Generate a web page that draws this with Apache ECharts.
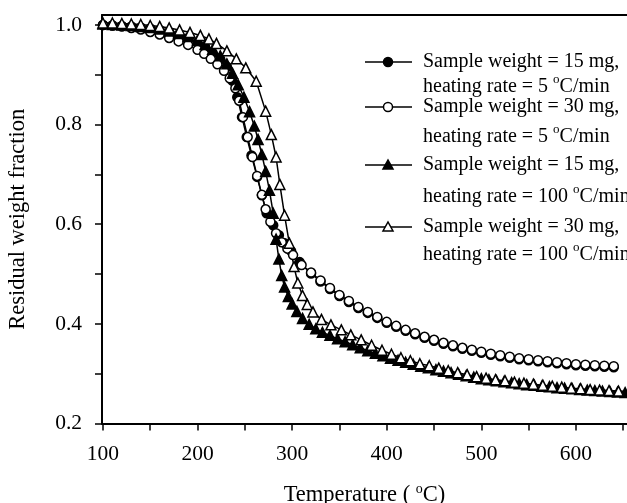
<!DOCTYPE html>
<html>
<head>
<meta charset="utf-8">
<script src="https://cdn.jsdelivr.net/npm/echarts@6/dist/echarts.min.js"></script>
<style>
  html, body { margin: 0; padding: 0; background: #fff; }
  #chart { width: 627px; height: 503px; }
</style>
</head>
<body>
<div id="chart"></div>
<script>
// Sample weight = 15 mg, heating rate = 5 C/min (filled circles)
const tempA = [100,110,120,130,140,150,160,170,180,190,200,208,216,224,231,237,242,247,252,257,263,268,273,280,286,292,299,308,
  320,330,340,350,360,370,380,390,400,410,420,430,440,450,460,470,480,490,500,510,520,530,540,550,560,570,580,590,600,610,620,630,640];
const weightA = [1.000,0.999,0.998,0.997,0.995,0.993,0.990,0.986,0.981,0.974,0.965,0.956,0.944,0.931,0.916,0.888,0.855,0.815,0.775,0.738,0.695,0.658,0.622,0.598,0.578,0.562,0.546,0.524,
  0.501,0.485,0.470,0.456,0.444,0.432,0.422,0.412,0.402,0.394,0.386,0.379,0.372,0.366,0.360,0.355,0.350,0.346,0.342,0.338,0.335,0.332,0.329,0.327,0.325,0.323,0.321,0.319,0.317,0.316,0.315,0.314,0.313];

// Sample weight = 30 mg, heating rate = 5 C/min (open circles)
const tempB = [100,110,120,130,140,150,160,170,180,190,200,207,214,221,228,234,240,244,248,253,258,263,268,272,277,283,289,295,301,
  310,320,330,340,350,360,370,380,390,400,410,420,430,440,450,460,470,480,490,500,510,520,530,540,550,560,570,580,590,600,610,620,630,640];
const weightB = [1.000,0.999,0.997,0.994,0.991,0.986,0.981,0.974,0.967,0.960,0.950,0.942,0.932,0.921,0.908,0.893,0.873,0.848,0.815,0.775,0.735,0.697,0.659,0.630,0.605,0.582,0.564,0.551,0.538,
  0.518,0.503,0.487,0.472,0.458,0.446,0.434,0.424,0.414,0.404,0.396,0.388,0.381,0.374,0.368,0.362,0.357,0.352,0.348,0.344,0.340,0.337,0.334,0.331,0.329,0.327,0.325,0.323,0.321,0.319,0.318,0.317,0.316,0.315];

// Sample weight = 15 mg, heating rate = 100 C/min (filled triangles)
const tempC = [100,110,120,130,140,150,160,170,180,190,200,208,216,224,231,237,243,249,255,260,264,268,272,276,280,283,286,289,292,296,300,305,311,318,
  325,332,340,348,356,364,372,380,388,396,404,412,420,428,436,444,452,460,468,476,484,492,500,508,516,524,532,540,548,556,564,572,580,588,596,604,612,620,628,636,644,652];
const weightC = [1.002,1.001,1.000,0.999,0.997,0.995,0.992,0.988,0.983,0.977,0.969,0.961,0.951,0.938,0.922,0.903,0.880,0.855,0.826,0.797,0.770,0.740,0.706,0.668,0.622,0.570,0.530,0.497,0.474,0.455,0.440,0.425,0.411,0.399,
  0.390,0.383,0.377,0.370,0.364,0.358,0.352,0.346,0.341,0.336,0.331,0.327,0.323,0.319,0.315,0.312,0.308,0.305,0.302,0.299,0.296,0.293,0.290,0.288,0.286,0.284,0.282,0.280,0.278,0.277,0.275,0.274,0.272,0.271,0.270,0.268,0.267,0.266,0.265,0.264,0.263,0.262];

// Sample weight = 30 mg, heating rate = 100 C/min (open triangles)
const tempD = [100,110,120,130,140,150,160,170,181,192,203,212,220,231,241,251,262,272,278,283,287,292,297,302,306,311,316,322,331,341,352,362,373,384,395,
  405,415,425,435,445,455,465,475,485,495,505,515,525,535,545,555,565,575,585,595,605,615,625,635,645,655];
const weightD = [1.004,1.004,1.003,1.002,1.001,0.999,0.997,0.994,0.990,0.985,0.979,0.972,0.963,0.948,0.932,0.914,0.887,0.827,0.780,0.735,0.680,0.618,0.562,0.515,0.482,0.457,0.439,0.424,0.409,0.398,0.388,0.378,0.368,0.357,0.347,
  0.339,0.332,0.326,0.320,0.316,0.311,0.306,0.302,0.298,0.294,0.291,0.288,0.286,0.283,0.281,0.279,0.277,0.275,0.273,0.271,0.270,0.268,0.267,0.266,0.265,0.264];

const seriesNames = [
  'Sample weight = 15 mg, heating rate = 5 °C/min',
  'Sample weight = 30 mg, heating rate = 5 °C/min',
  'Sample weight = 15 mg, heating rate = 100 °C/min',
  'Sample weight = 30 mg, heating rate = 100 °C/min'
];
const legendLine1 = ['Sample weight = 15 mg,', 'Sample weight = 30 mg,', 'Sample weight = 15 mg,', 'Sample weight = 30 mg,'];
const legendLine2 = ['heating rate = 5 {sup|o}C/min', 'heating rate = 5 {sup|o}C/min',
  'heating rate = 100 {sup|o}C/min', 'heating rate = 100 {sup|o}C/min'];

const xTicks = [100,150,200,250,300,350,400,450,500,550,600,650];
const xLabels = [100,200,300,400,500,600];
const yTicks = [0.2,0.3,0.4,0.5,0.6,0.7,0.8,0.9,1.0];
const yLabels = [0.2,0.4,0.6,0.8,1.0];

const FONT = 'Liberation Serif';
// bottom padding pushes the small "o" up towards cap height
const supStyle = { fontSize: 14, fontFamily: FONT, color: '#000', padding: [0, 0, 11, 0] };

function pairs(t, w) {
  return t.map((x, i) => [x, w[i]]);
}

function lineSeries(name, t, w, symbol, filled, size) {
  return {
    name: name,
    type: 'line',
    data: pairs(t, w),
    symbol: symbol,
    symbolSize: size,
    showAllSymbol: true,
    lineStyle: { color: '#000', width: 1.5 },
    itemStyle: { color: filled ? '#000' : '#fff', borderColor: '#000', borderWidth: 1.5 },
    emphasis: { disabled: true },
    animation: false
  };
}

// legend drawn by hand: symbol on first text line, uneven rows as in the figure
const legendRows = [[62, 87], [107, 137], [165, 197], [227, 255]];
const legendMarks = [['circle', true], ['circle', false], ['triangle', true], ['triangle', false]];
const legendEls = [];
legendRows.forEach((r, i) => {
  const y = r[0];
  legendEls.push({ type: 'line', shape: { x1: 365, y1: y, x2: 412, y2: y }, style: { stroke: '#000', lineWidth: 1.5 } });
  const fill = legendMarks[i][1] ? '#000' : '#fff';
  if (legendMarks[i][0] === 'circle') {
    legendEls.push({ type: 'circle', shape: { cx: 388, cy: y, r: 4.5 }, style: { fill: fill, stroke: '#000', lineWidth: 1.5 } });
  } else {
    legendEls.push({ type: 'polygon', shape: { points: [[383, y + 4], [393, y + 4], [388, y - 5]] }, style: { fill: fill, stroke: '#000', lineWidth: 1.5 } });
  }
  legendEls.push({ type: 'text', x: 423, y: r[0], style: { text: legendLine1[i], fontSize: 20, fontFamily: FONT, fill: '#000', verticalAlign: 'middle' } });
  legendEls.push({ type: 'text', x: 423, y: r[1], style: { text: legendLine2[i], fontSize: 20, fontFamily: FONT, fill: '#000', verticalAlign: 'middle',
    rich: { sup: { fontSize: 13, fontFamily: FONT, fill: '#000', padding: [0, 0, 14, 0] } } } });
});

const chart = echarts.init(document.getElementById('chart'), null, { renderer: 'canvas' });
chart.setOption({
  animation: false,
  backgroundColor: '#fff',
  grid: { left: 102, top: 15, right: 0, bottom: 79.5, outerBoundsMode: 'none' },
  xAxis: [{
    type: 'value',
    min: 99,
    max: 654,
    position: 'bottom',
    name: 'Temperature ( {sup|o}C)',
    nameLocation: 'middle',
    nameGap: 59,
    nameMoveOverlap: false,
    nameTextStyle: { fontSize: 22.5, fontFamily: FONT, color: '#000', rich: { sup: supStyle } },
    axisLine: { show: true, onZero: false, lineStyle: { color: '#000', width: 2 } },
    axisTick: { show: true, customValues: xTicks, length: 7, lineStyle: { color: '#000', width: 1.5 } },
    axisLabel: { customValues: xLabels, fontSize: 21.5, fontFamily: FONT, color: '#000', margin: 20 },
    splitLine: { show: false }
  }, {
    type: 'value',
    min: 99,
    max: 654,
    position: 'top',
    axisLine: { show: true, onZero: false, lineStyle: { color: '#000', width: 2 } },
    axisTick: { show: false },
    axisLabel: { show: false },
    splitLine: { show: false }
  }],
  yAxis: {
    type: 'value',
    min: 0.2,
    max: 1.02,
    name: 'Residual weight fraction',
    nameLocation: 'middle',
    nameGap: 72,
    nameMoveOverlap: false,
    nameTextStyle: { fontSize: 22.5, fontFamily: FONT, color: '#000' },
    axisLine: { show: true, onZero: false, lineStyle: { color: '#000', width: 2 } },
    axisTick: { show: true, customValues: yTicks, length: 7, lineStyle: { color: '#000', width: 1.5 } },
    axisLabel: { customValues: yLabels, fontSize: 21.5, fontFamily: FONT, color: '#000', margin: 20,
      formatter: v => v.toFixed(1) },
    splitLine: { show: false }
  },
  series: [
    lineSeries(seriesNames[0], tempA, weightA, 'circle', true, 9),
    lineSeries(seriesNames[1], tempB, weightB, 'circle', false, 9),
    lineSeries(seriesNames[2], tempC, weightC, 'triangle', true, 10),
    lineSeries(seriesNames[3], tempD, weightD, 'triangle', false, 10)
  ],
  graphic: legendEls
});
</script>
</body>
</html>
